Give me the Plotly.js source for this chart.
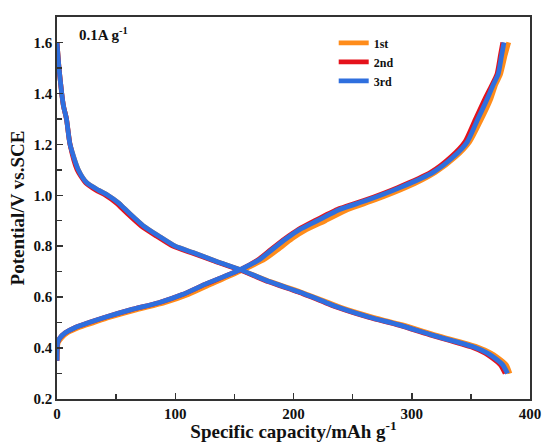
<!DOCTYPE html>
<html>
<head>
<meta charset="utf-8">
<script src="https://cdn.plot.ly/plotly-3.0.1.min.js"></script>
<style>html,body{margin:0;padding:0;background:#fff;}#chart{width:543px;height:442px;}</style>
</head>
<body>
<div id="chart"></div>
<script>
// Discharge branch: voltages (V vs. SCE) and capacities (mAh/g) per cycle
const dischargeV = [1.6,1.5,1.4,1.35,1.3,1.2,1.1,1.05,1.02,1.0,0.97,0.93,0.88,0.84,0.8,0.775,0.74,0.708,0.66,0.62,0.58,0.558,0.52,0.49,0.45,0.405,0.38,0.365,0.334,0.3];
const dischargeCap1 = [0,1.7,4,5.5,8,11,18,25,35,43,52,61,73,86,100,115,135,155,181,206,229,241,268,293,321,355,367,372,380,383];
const dischargeCap2 = [0,1.7,4,5.5,8,11,17,24,33,41,50,59,71,84,98,113,134,154,179,204,226,238,264,289,317,350,362,367,375,379];
const dischargeCap3 = [0,1.7,4,5.5,8,11,18,25,35,43,52,61,73,86,100,115,135,155,180,205,227,239,265,290,318,352,364,369,377,381];

// Charge branch
const chargeV = [0.35,0.42,0.44,0.46,0.48,0.5,0.52,0.55,0.578,0.61,0.65,0.708,0.75,0.787,0.83,0.865,0.9,0.944,0.98,1.03,1.09,1.15,1.21,1.29,1.38,1.435,1.474,1.55,1.6];
const chargeCap1 = [0,1,4,9,18,31,44,67,91,111,130,158,176,187,199,211,227,246,268,295,320,337,349,358,367,371,375,379,382];
const chargeCap2 = [0,0.5,2.5,7,15,27,40,62,86,106,125,155,171,181,193,204,218,237,260,288,316,333,345,353,362,368,372,375,377];
const chargeCap3 = [0,0.5,2.5,7,15,27,40,62,86,106,125,155,172,182,194,205,220,239,262,290,318,335,347,355,364,369,373,376,378];

const seriesNames = ["1st","2nd","3rd"];
const seriesColors = ["#FF8C1A","#E5121B","#2F6FDE"];

const disCaps = [dischargeCap1, dischargeCap2, dischargeCap3];
const chgCaps = [chargeCap1, chargeCap2, chargeCap3];

const traces = seriesNames.map((name, i) => ({
  type: "scatter",
  mode: "lines",
  name: name,
  x: disCaps[i].concat([null], chgCaps[i]),
  y: dischargeV.concat([null], chargeV),
  connectgaps: false,
  line: {color: seriesColors[i], width: 4.8, shape: "spline", smoothing: 0.6}
}));

const fam = "Liberation Serif, Times New Roman, serif";

const layout = {
  width: 543, height: 442,
  margin: {l: 57, r: 13, t: 17, b: 43},
  paper_bgcolor: "#fff", plot_bgcolor: "#fff",
  showlegend: true,
  legend: {
    x: 0.585, y: 0.97, xanchor: "left", yanchor: "top",
    bgcolor: "rgba(0,0,0,0)", borderwidth: 0,
    font: {family: fam, size: 12, color: "#111", weight: "bold"},
    tracegroupgap: 0, itemwidth: 30
  },
  xaxis: {
    range: [0, 400], dtick: 100, tick0: 0,
    ticks: "inside", ticklen: 6, tickwidth: 1.5, tickcolor: "#333",
    minor: {dtick: 50, ticks: "inside", ticklen: 5, tickwidth: 1.5, tickcolor: "#333"},
    showline: true, linecolor: "#333", linewidth: 1.8, mirror: true,
    showgrid: false, zeroline: false,
    tickfont: {family: fam, size: 15, color: "#111", weight: "bold"},
    title: {text: "Specific capacity/mAh g<sup>-1</sup>", standoff: 2,
            font: {family: fam, size: 19, color: "#111", weight: "bold"}}
  },
  yaxis: {
    range: [0.2, 1.7], dtick: 0.2, tick0: 0.2, tickformat: ".1f",
    ticks: "inside", ticklen: 6, tickwidth: 1.5, tickcolor: "#333",
    minor: {dtick: 0.1, ticks: "inside", ticklen: 5, tickwidth: 1.5, tickcolor: "#333"},
    showline: true, linecolor: "#333", linewidth: 1.8, mirror: true,
    showgrid: false, zeroline: false,
    tickfont: {family: fam, size: 15, color: "#111", weight: "bold"},
    title: {text: "Potential/V vs.SCE", standoff: 4,
            font: {family: fam, size: 19, color: "#111", weight: "bold"}}
  },
  annotations: [{
    xref: "paper", yref: "paper", x: 0.043, y: 0.985, xanchor: "left", yanchor: "top",
    text: "0.1A g<sup>-1</sup>", showarrow: false,
    font: {family: fam, size: 15, color: "#111", weight: "bold"}
  }]
};

Plotly.newPlot("chart", traces, layout, {displayModeBar: false, staticPlot: true});
</script>
</body>
</html>
